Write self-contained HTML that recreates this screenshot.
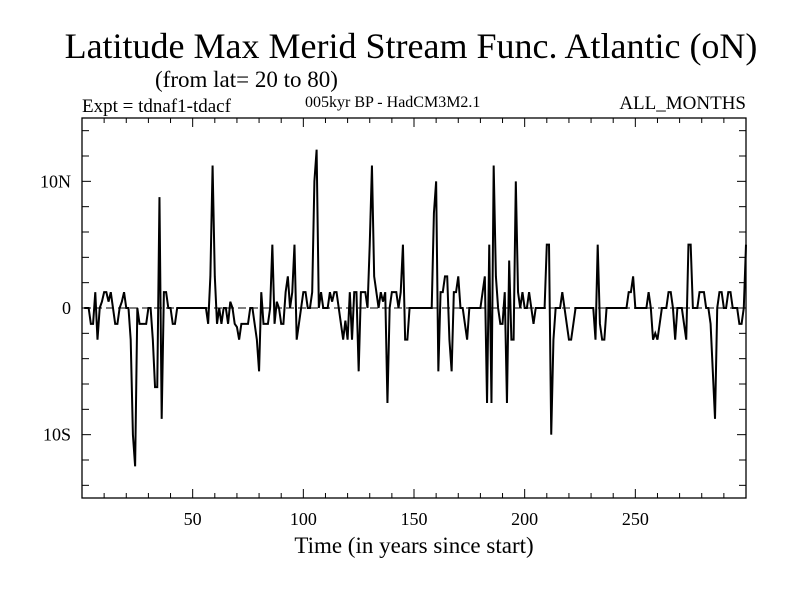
<!DOCTYPE html>
<html><head><meta charset="utf-8"><style>
body{margin:0;background:#fff}
svg{display:block;font-family:"Liberation Serif",serif}
</style></head><body>
<svg id="c" width="800" height="600" viewBox="0 0 800 600">
<text x="411" y="58" font-size="36" text-anchor="middle">Latitude Max Merid Stream Func. Atlantic (oN)</text>
<text x="155" y="87" font-size="23">(from lat= 20 to 80)</text>
<text x="82" y="112" font-size="19">Expt = tdnaf1-tdacf</text>
<text x="305" y="107" font-size="16">005kyr BP - HadCM3M2.1</text>
<text x="746" y="109" font-size="19" text-anchor="end">ALL_MONTHS</text>
<text x="414" y="553" font-size="23" text-anchor="middle">Time (in years since start)</text>
<g id="ax"></g>
<rect x="82" y="118" width="664" height="380" fill="none" stroke="#000" stroke-width="1.3"/>
</svg>
<script>
const years=[];for(let i=1;i<=300;i++)years.push(i);
const values=[
0,0,0,-1.25,-1.25,1.25,-2.5,0,0.5,1.25,
1.25,0.5,1.25,0,-1.25,-1.25,0,0.5,1.25,0,
0,-2.5,-10,-12.5,0,-1.25,-1.25,-1.25,-1.25,0,
0,-2.5,-6.25,-6.25,8.75,-8.75,1.25,1.25,0,0,
-1.25,-1.25,0,0,0,0,0,0,0,0,
0,0,0,0,0,0,-1.25,2.5,11.25,2.5,
-1.25,0,-1.25,0,0,-1.25,0.5,0,-1.25,-1.5,
-2.5,-1.25,-1.25,-1.25,-1.25,0,0,-1.25,-2.5,-5,
1.25,-1.25,-1.25,-1.25,0,5,-1.25,0.5,0,-1.25,
-1.25,1.25,2.5,0,1.25,5,-2.5,-1.25,0,1.25,
1.25,0,0,1.25,10,12.5,0,1.25,0,0,
0,1.25,0.5,1.25,1.25,0,-1.25,-2.5,-1,-2.5,
1.25,-2.5,1.25,1.25,-5,1.25,1.25,1.25,0,5,
11.25,2.5,1.25,0,1.25,0.5,1.25,-7.5,0,1.25,
1.25,1.25,0,1.25,5,-2.5,-2.5,0,0,0,
0,0,0,0,0,0,0,0,7.5,10,
-5,1.25,1.25,2.5,2.5,-2.5,-5,1.25,1.25,2.5,
0,0,-1.25,-2.5,0,0,0,0,0,0,
1.25,2.5,-7.5,5,-7.5,11.25,2.5,0,-1.25,-1.25,
1.25,-7.5,3.75,-2.5,-2.5,10,1.25,0,1.25,0,
0,1.25,0,-1.25,0,0,0,0,0,5,
5,-10,-2.5,0,0,0,1.25,0,-1.25,-2.5,
-2.5,-1.25,0,0,0,0,0,0,0,0,
0,-2.5,5,-1.25,-2.5,-2.5,0,0,0,0,
0,0,0,0,0,0,1.25,1.25,2.5,0,
0,0,0,0,0,1.25,0,-2.5,-2,-2.5,
-1.25,0,0,0,1.25,1.25,0,-2.5,0,0,
0,-1.25,-2.5,5,5,0,0,0,1.25,1.25,
1.25,0,0,-1.25,-5,-8.75,0,1.25,1.25,0,
0,1.25,1.25,0,0,0,-1.25,-1.25,0,5];
const xTickVals=[50,100,150,200,250];
const yTickVals=[-10,0,10];
const yTickLabels=["10S","0","10N"];
const X0=82,X1=746,Y0=118,Y1=498,XMIN=0,XMAX=300,YMIN=-15,YMAX=15;
const sx=v=>X0+(v-XMIN)/(XMAX-XMIN)*(X1-X0);
const sy=v=>Y1-(v-YMIN)/(YMAX-YMIN)*(Y1-Y0);
const NS="http://www.w3.org/2000/svg";
const g=document.getElementById('ax');
function mk(t,a){const e=document.createElementNS(NS,t);for(const k in a)e.setAttribute(k,a[k]);g.appendChild(e);return e;}
for(let v=10;v<300;v+=10){const maj=v%50===0,L=maj?9:5,x=sx(v);
const t1=mk('line',{x1:x,x2:x,y1:Y1,y2:Y1-L,stroke:'#000'});


const t2=mk('line',{x1:x,x2:x,y1:Y0,y2:Y0+L,stroke:'#000'});

}
for(let v=-14;v<=14;v+=2){const maj=v%10===0,L=maj?9:7,y=sy(v);
const t1=mk('line',{x1:X0,x2:X0+L,y1:y,y2:y,stroke:'#000'});


const t2=mk('line',{x1:X1,x2:X1-L,y1:y,y2:y,stroke:'#000'});

}
xTickVals.forEach(v=>{const t=mk('text',{x:sx(v),y:525,'font-size':18,'text-anchor':'middle'});t.textContent=v;

});
yTickVals.forEach((v,i)=>{const t=mk('text',{x:71,y:sy(v)+6,'font-size':18,'text-anchor':'end'});t.textContent=yTickLabels[i];

});
const z=mk('line',{x1:X0,x2:X1,y1:sy(0),y2:sy(0),stroke:'#000','stroke-dasharray':'8,4','stroke-width':1});


const p=mk('polyline',{points:values.map((v,i)=>sx(years[i])+','+sy(v)).join(' '),fill:'none',stroke:'#000','stroke-width':2,'stroke-linejoin':'miter'});


</script>
</body></html>
